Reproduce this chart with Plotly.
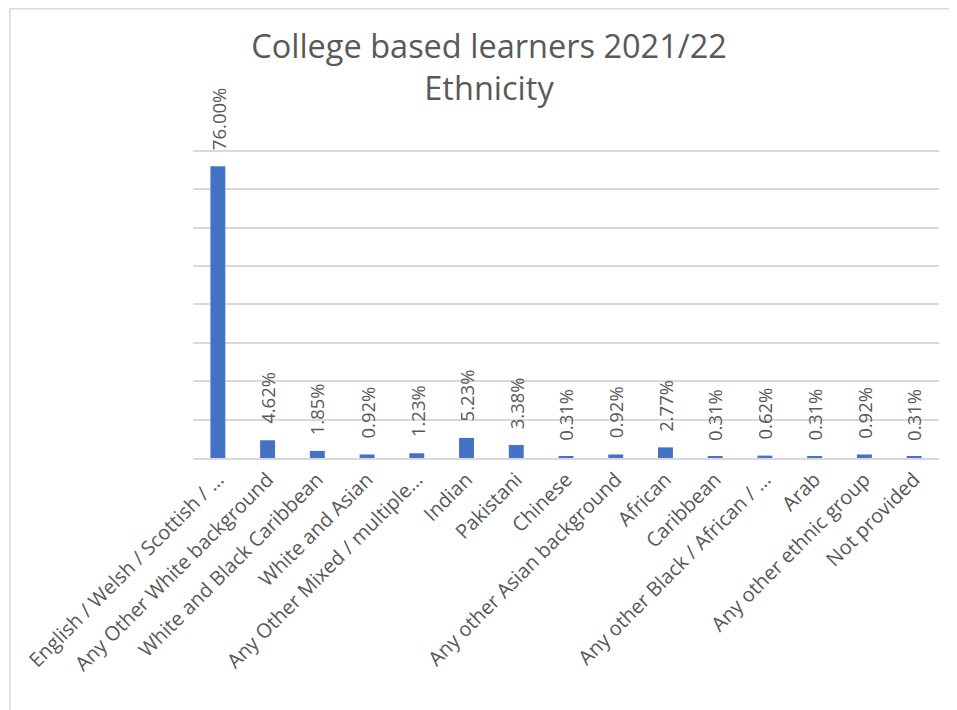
import plotly.graph_objects as go

categories = [
    "English / Welsh / Scottish / …",
    "Any Other White background",
    "White and Black Caribbean",
    "White and Asian",
    "Any Other Mixed / multiple…",
    "Indian",
    "Pakistani",
    "Chinese",
    "Any other Asian background",
    "African",
    "Caribbean",
    "Any other Black / African / …",
    "Arab",
    "Any other ethnic group",
    "Not provided",
]
values = [0.7600, 0.0462, 0.0185, 0.0092, 0.0123, 0.0523, 0.0338, 0.0031,
          0.0092, 0.0277, 0.0031, 0.0062, 0.0031, 0.0092, 0.0031]
labels = [f"{v*100:.2f}%" for v in values]

FONT = "Open Sans"
GREY = "#595959"
GRID = "#d9d9d9"

W, H = 957, 710
OFF = 8  # page body margin: screen = figure + OFF
Y_MAX = 0.805
# target plot area in screen pixels
SL, SR, ST, SB = 193, 939, 149, 458
ML, MR, MT, MB = SL - OFF, W - (SR - OFF), ST - OFF, H - (SB - OFF)
pw = W - ML - MR
ph = H - MT - MB

def px_x(s):
    return (s - OFF - ML) / pw

def px_y(s):
    return (H - MB - (s - OFF)) / ph

fig = go.Figure()
fig.add_trace(go.Bar(
    x=categories, y=values,
    marker=dict(color="#4472C4", line=dict(width=0)),
    hoverinfo="x+y",
))

annotations = []
for c, v, t in zip(categories, values, labels):
    annotations.append(dict(
        x=c, y=v, xref="x", yref="y", text=t, showarrow=False,
        textangle=-90, yanchor="bottom", xanchor="center", yshift=14,
        font=dict(family=FONT, size=18.5, color=GREY),
    ))

fig.update_layout(
    width=W, height=H,
    margin=dict(l=ML, r=MR, t=MT, b=MB, autoexpand=False),
    paper_bgcolor="white", plot_bgcolor="white",
    bargap=0.7,
    showlegend=False,
    title=dict(
        text="College based learners 2021/22<br>Ethnicity",
        x=px_x(489), xref="paper", xanchor="center",
        y=1 - 50 / H, yref="container", yanchor="top",
        font=dict(family=FONT, size=32.5, color=GREY),
    ),
    annotations=annotations,
    shapes=[
        dict(type="line", xref="paper", yref="paper",
             x0=px_x(10), x1=px_x(10), y0=px_y(8), y1=px_y(730),
             line=dict(color=GRID, width=1.5)),
        dict(type="line", xref="paper", yref="paper",
             x0=px_x(10), x1=px_x(980), y0=px_y(8.8), y1=px_y(8.8),
             line=dict(color=GRID, width=1.5)),
    ],
    xaxis=dict(
        tickangle=-45,
        tickfont=dict(family=FONT, size=20, color=GREY),
        showline=True, linecolor=GRID, linewidth=2,
        showgrid=False, ticks="", fixedrange=True, automargin=False,
    ),
    yaxis=dict(
        range=[0, Y_MAX], tick0=0, dtick=0.1, showticklabels=False,
        showgrid=True, gridcolor=GRID, gridwidth=1.5,
        zeroline=False, showline=False, ticks="", fixedrange=True,
        automargin=False,
    ),
)

fig.write_html("out.html")
